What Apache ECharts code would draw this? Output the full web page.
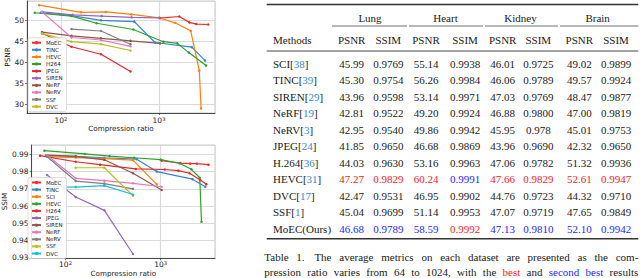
<!DOCTYPE html>
<html><head><meta charset="utf-8">
<script src="https://cdn.jsdelivr.net/npm/echarts@6/dist/echarts.min.js"></script>
<style>html,body{margin:0;padding:0;background:#fff}#c{width:640px;height:278px}</style>
</head><body><div id="c"></div>
<script>
// ================= DATA =================
const ratioTicks = [100, 1000];
const psnrTicks = [30, 35, 40, 45, 50];
const ssimTicks = [0.93, 0.94, 0.95, 0.96, 0.97, 0.98, 0.99];

// ---- top chart: PSNR vs compression ratio ([ratio, PSNR]) ----
const topNames = ['MoEC','TINC','HEVC','H264','JPEG','SIREN','NeRF','NeRV','SSF','DVC'];
const psnrMoEC  = [[1024,50.5],[1610,50.9],[2040,49.5],[2400,49.1],[3180,49.0]];
const psnrTINC  = [[62,51.8],[128,51.1],[256,50.0],[560,49.7],[910,44.7],[2160,43.6],[2950,40.4]];
const psnrHEVC  = [[60,53.6],[160,51.9],[288,52.0],[526,51.4],[1000,50.6],[1455,49.4],[2105,47.5],[2576,38.0],[2685,29.0]];
const psnrH264  = [[54,51.8],[128,51.0],[231,49.3],[547,47.8],[1107,44.9],[1537,44.5],[2012,42.3],[3020,39.2]];
const psnrJPEG  = [[64,46.9],[128,43.7],[256,41.9],[512,37.8]];
const psnrSIREN = [[65,52.0],[132,51.3],[260,51.0],[525,50.7],[1007,50.6]];
const psnrNeRF  = [[64,47.2],[128,46.3],[256,45.7],[512,45.1],[1024,44.5]];
const psnrNeRV  = [[64,52.0],[128,45.9],[256,45.3],[512,43.8]];
const psnrSSF   = [[128,47.9],[256,47.45],[512,44.3]];
const psnrDVC   = [[64,46.9],[128,44.9],[256,44.3],[512,42.8]];

// ---- bottom chart: SSIM vs compression ratio ([ratio, SSIM]) ----
const botNames = ['MoEC','TINC','SCI','HEVC','H264','JPEG','SIREN','NeRF','NeRV','SSF','DVC'];
const ssimMoEC  = [[1024,0.9863],[1610,0.9849],[2040,0.9846],[2400,0.9846],[3180,0.9840]];
const ssimTINC  = [[62,0.9893],[128,0.9888],[256,0.9880],[560,0.9872],[910,0.9800],[2160,0.9756],[2950,0.9712]];
const ssimSCI   = [[64,0.9887],[128,0.9881],[256,0.9875],[512,0.9866],[910,0.9726]];
const ssimHEVC  = [[60,0.9921],[160,0.9902],[290,0.9890],[526,0.9880],[1000,0.9869],[1575,0.9848],[2105,0.9813],[2576,0.9764],[2685,0.9509]];
const ssimH264  = [[54,0.9892],[128,0.9857],[231,0.9840],[547,0.9815],[1107,0.9812],[1537,0.9805],[2012,0.9790],[2600,0.9751],[3020,0.9726]];
const ssimJPEG  = [[64,0.9780],[128,0.9652],[256,0.9575],[512,0.9322]];
const ssimSIREN = [[64,0.9895],[128,0.9888],[256,0.9868],[512,0.9790],[1024,0.9693]];
const ssimNeRF  = [[64,0.9895],[128,0.9761],[256,0.9747],[512,0.9732],[1024,0.9712]];
const ssimNeRV  = [[64,0.9886],[128,0.9745],[256,0.9730],[512,0.9700]];
const ssimSSF   = [[128,0.9822],[256,0.9822],[512,0.9660]];
const ssimDVC   = [[64,0.9712],[128,0.9710],[256,0.9718],[512,0.9667]];

// ---- table ----
const tableGroups = ['Lung','Heart','Kidney','Brain'];
const tableMetrics = ['PSNR','SSIM'];
const tableMethods = ['SCI','TINC','SIREN','NeRF','NeRV','JPEG','H.264','HEVC','DVC','SSF','MoEC(Ours)'];
const tableRefs    = ['38','39','29','19','3','24','36','31','17','1',''];
const lungPSNR   = ['45.99','45.30','43.96','42.81','42.95','41.85','44.03','47.27','42.47','45.04','46.68'];
const lungSSIM   = ['0.9769','0.9754','0.9598','0.9522','0.9540','0.9650','0.9630','0.9829','0.9531','0.9699','0.9789'];
const heartPSNR  = ['55.14','56.26','53.14','49.20','49.86','46.68','53.16','60.24','46.95','51.14','58.59'];
const heartSSIM  = ['0.9938','0.9984','0.9971','0.9924','0.9942','0.9869','0.9963','0.9991','0.9902','0.9953','0.9992'];
const kidneyPSNR = ['46.01','46.06','47.03','46.88','45.95','43.96','47.06','47.66','44.76','47.07','47.13'];
const kidneySSIM = ['0.9725','0.9789','0.9769','0.9800','0.978','0.9690','0.9782','0.9829','0.9723','0.9719','0.9810'];
const brainPSNR  = ['49.02','49.57','48.47','47.00','45.01','42.32','51.32','52.61','44.32','47.65','52.10'];
const brainSSIM  = ['0.9899','0.9924','0.9877','0.9819','0.9753','0.9650','0.9936','0.9947','0.9710','0.9849','0.9942'];
const captionLine1 = 'Table 1.  The average metrics on each dataset are presented as the com-';
const captionLine2 = 'pression ratio varies from 64 to 1024, with the best and second best results';

// ================= STYLE / LAYOUT =================
const sans = 'DejaVu Sans';
const serif = 'Liberation Serif';
const ZW = '\u200b';
const topColors = ['#f22a2a','#3585c8','#ff7f0e','#2ca02c','#e0282a','#9467bd','#8c564b','#e377c2','#7f7f7f','#bcbd22'];
const botColors = ['#f22a2a','#3585c8','#ff7f0e','#2ca02c','#e0282a','#9467bd','#8c564b','#e377c2','#7f7f7f','#bcbd22','#17becf'];
const topData = [psnrMoEC,psnrTINC,psnrHEVC,psnrH264,psnrJPEG,psnrSIREN,psnrNeRF,psnrNeRV,psnrSSF,psnrDVC];
const botData = [ssimMoEC,ssimTINC,ssimSCI,ssimHEVC,ssimH264,ssimJPEG,ssimSIREN,ssimNeRF,ssimNeRV,ssimSSF,ssimDVC];

const chart = echarts.init(document.getElementById('c'), null, {renderer:'svg', width:640, height:278});

function near(a, b){ return Math.abs(a-b) < 1e-6 * Math.max(1, Math.abs(b)); }
function xAxisCfg(gi, minR, maxR, margin, gap){
  return {type:'log', logBase:10, gridIndex:gi, min:minR, max:maxR,
    axisLine:{show:true, onZero:false, lineStyle:{color:'#222', width:0.8}},
    axisTick:{show:true, length:2, lineStyle:{color:'#222', width:0.6}},
    axisLabel:{margin:margin, fontSize:7.5, fontFamily:sans, color:'#222', showMinLabel:false, showMaxLabel:false,
      formatter: v => { const t = ratioTicks.find(r => near(v, r)); return t ? '10{s|' + Math.round(Math.log10(t)) + '}' : ''; },
      rich:{s:{fontSize:5.2, fontFamily:sans, color:'#222', verticalAlign:'top'}}},
    splitLine:{show:true, lineStyle:{color:'#dadada', width:1.2}},
    name:'Compression ratio', nameLocation:'middle', nameGap:gap,
    nameTextStyle:{fontSize:7.2, fontFamily:sans, color:'#222'}};
}
function yAxisCfg(gi, min, max, ticks, digits, name, gap){
  return {type:'value', gridIndex:gi, min:min, max:max, splitNumber:5,
    axisLine:{show:true, onZero:false, lineStyle:{color:'#222', width:0.8}},
    axisTick:{show:true, length:2, lineStyle:{color:'#222', width:0.6}},
    axisLabel:{margin:3, fontSize:7.5, fontFamily:sans, color:'#222', showMinLabel:false, showMaxLabel:false,
      formatter: v => { const t = ticks.find(r => near(v, r)); return t !== undefined ? t.toFixed(digits) : ''; }},
    splitLine:{show:true, lineStyle:{color:'#dadada', width:1.2}},
    name:name, nameLocation:'middle', nameGap:gap, nameRotate:90,
    nameTextStyle:{fontSize:7.2, fontFamily:sans, color:'#222'}};
}
function mkSeries(name, data, color, gi){
  return {type:'line', name:name, xAxisIndex:gi, yAxisIndex:gi, data:data,
    symbol:'circle', symbolSize:2.5, showSymbol:true, animation:false,
    lineStyle:{width:1.2, color:color}, itemStyle:{color:color}};
}
function legendCfg(names, top){
  return {orient:'vertical', left:28, top:top, data:names, selectedMode:false,
    itemWidth:9, itemHeight:4, itemGap:0.1, padding:[1.5,4,1.5,3],
    backgroundColor:'rgba(255,255,255,0.85)', borderColor:'#d0d0d0', borderWidth:0.7, borderRadius:2,
    formatter: n => n.replace(ZW, ''),
    textStyle:{fontSize:5.5, fontFamily:sans, color:'#222', lineHeight:7}};
}

const series = [];
topNames.forEach((n, i) => series.push(mkSeries(n, topData[i], topColors[i], 0)));
botNames.forEach((n, i) => series.push(mkSeries(n + ZW, botData[i], botColors[i], 1)));

// ---------- table via graphic ----------
const mc = document.createElement('canvas').getContext('2d');
function tw(text, font){ mc.font = font; return mc.measureText(text).width; }
const tFont = '11px "' + serif + '"';
const colX = [351.7, 388.3, 426, 465, 502.7, 538.3, 579.3, 616];
const tblL = 266.7, tblR = 638.3;
const yTopRule = 4.5, yGroup = 17.5, yCmid = 26, yHead = 39.5, yMid = 51, yRow0 = 63.5, rowStep = 16.5, yBotRule = 238.8;
const yCap1 = 256.8, yCap2 = 271.5, capL = 264.3, capR = 638.3;
const RED = '#f21d1d', BLUE = '#1f1fff', CITE = '#3a86d4', INK = '#1a1a1a';
const g = [];
function txt(s, x, y, color, align){ g.push({type:'text', silent:true, style:{text:s, x:x, y:y, font:tFont, fill:color, align:align, verticalAlign:'middle', textAlign:align, textVerticalAlign:'middle'}}); }
function hline(x1, x2, y, w){ g.push({type:'line', silent:true, shape:{x1:x1, y1:y, x2:x2, y2:y}, style:{stroke:'#333', lineWidth:w}}); }
hline(tblL, tblR, yTopRule, 1.6);
tableGroups.forEach((gname, k) => txt(gname, (colX[2*k] + colX[2*k+1]) / 2, yGroup, INK, 'center'));
[[332,407],[409,483],[485,558],[560,638.3]].forEach(s => hline(s[0], s[1], yCmid, 0.7));
txt('Methods', 273, yHead, INK, 'left');
colX.forEach((x, j) => txt(tableMetrics[j % 2], x, yHead, INK, 'center'));
hline(tblL, tblR, yMid, 0.9);
const cols = [lungPSNR, lungSSIM, heartPSNR, heartSSIM, kidneyPSNR, kidneySSIM, brainPSNR, brainSSIM];
const rank = cols.map(col => { const v = col.map(Number); const s = v.slice().sort((a,b)=>b-a); return [s[0], s[1]]; });
tableMethods.forEach((m, i) => {
  const y = yRow0 + i * rowStep;
  let x = 273;
  if (tableRefs[i]) {
    txt(m + '[', x, y, INK, 'left'); x += tw(m + '[', tFont);
    txt(tableRefs[i], x, y, CITE, 'left'); x += tw(tableRefs[i], tFont);
    txt(']', x, y, INK, 'left');
  } else {
    txt(m, x, y, INK, 'left');
  }
  cols.forEach((col, j) => {
    const v = Number(col[i]);
    const c = v === rank[j][0] ? RED : (v === rank[j][1] ? BLUE : INK);
    txt(col[i], colX[j], y, c, 'center');
  });
});
hline(tblL, tblR, yBotRule, 1.6);
// justified caption
function justify(line, y, colorFn){
  const words = line.split(/ +/);
  const widths = words.map(w => tw(w, tFont));
  const tot = widths.reduce((a,b)=>a+b, 0);
  const extra = line.indexOf('1.  ') >= 0 ? 2 : 0;
  const gap = (capR - capL - tot - extra) / (words.length - 1);
  let x = capL;
  words.forEach((w, i) => {
    txt(w, x, y, colorFn(i, w), 'left');
    x += widths[i] + gap + (w === '1.' ? extra : 0);
  });
}
justify(captionLine1, yCap1, () => INK);
justify(captionLine2, yCap2, (i, w) => {
  const ws = captionLine2.split(/ +/);
  if (i === ws.indexOf('best')) return RED;
  if (i === ws.indexOf('second') || i === ws.lastIndexOf('best')) return BLUE;
  return INK;
});

chart.setOption({
  animation:false,
  backgroundColor:'#fff',
  grid:[
    {left:27, top:1, width:188, height:112, show:true, borderColor:'#bdbdbd', borderWidth:0.8, containLabel:false},
    {left:26, top:145, width:189, height:113.3, show:true, borderColor:'#bdbdbd', borderWidth:0.8, containLabel:false}
  ],
  xAxis:[xAxisCfg(0, 45, 3724, 3, 10.5), xAxisCfg(1, 44, 3724, 2.5, 10)],
  yAxis:[yAxisCfg(0, 27.9, 54.6, psnrTicks, 0, 'PSNR', 16), yAxisCfg(1, 0.9297, 0.9954, ssimTicks, 2, 'SSIM', 20)],
  legend:[legendCfg(topNames, 37.7), legendCfg(botNames.map(n => n + ZW), 177.5)],
  series:series,
  graphic:g
});
</script></body></html>
